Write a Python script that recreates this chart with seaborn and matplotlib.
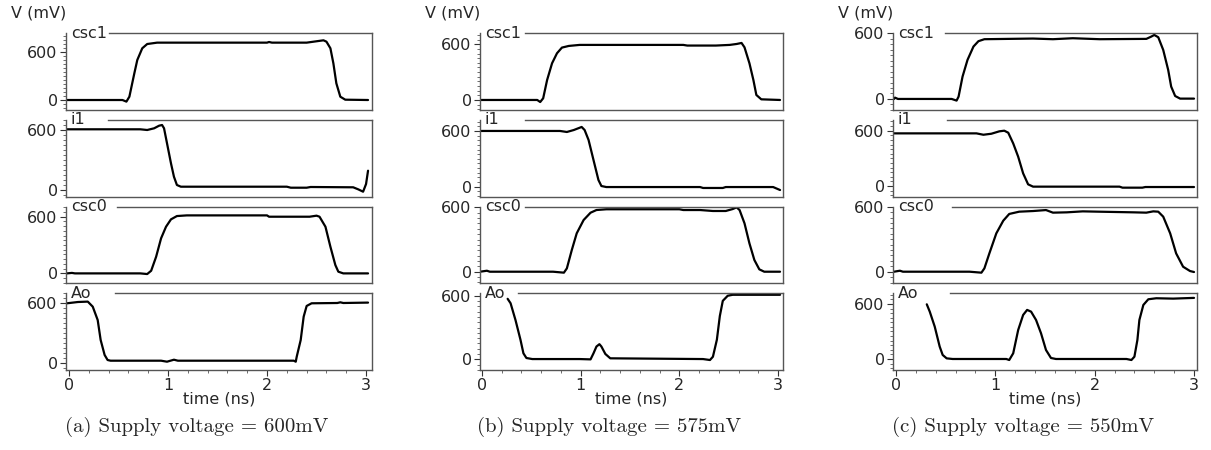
import matplotlib
matplotlib.use("Agg")
import matplotlib.pyplot as plt
import seaborn as sns
from matplotlib.ticker import MultipleLocator

# ---- datos: señales (tiempo en ns, tensión en mV) ----

senales = ["csc1", "i1", "csc0", "Ao"]
titulos = ["(a) Supply voltage = 600mV",
           "(b) Supply voltage = 575mV",
           "(c) Supply voltage = 550mV"]

# panel (a) 600 mV
t_a_csc1 = [-0.02, 0.54, 0.58, 0.61, 0.66, 0.69, 0.74, 0.79, 0.89, 2.0, 2.02, 2.05,
            2.40, 2.47, 2.57, 2.60, 2.64, 2.67, 2.70, 2.74, 2.79, 3.02]
v_a_csc1 = [0, 0, -20, 41, 331, 497, 642, 695, 712, 712, 720, 712,
            712, 724, 741, 724, 642, 455, 207, 41, 4, 0]
t_a_i1 = [-0.02, 0.72, 0.79, 0.86, 0.91, 0.94, 0.96, 0.99, 1.03, 1.06, 1.09, 1.13,
          2.20, 2.24, 2.40, 2.44, 2.87, 2.92, 2.97, 3.00, 3.02]
v_a_i1 = [607, 607, 600, 617, 643, 650, 617, 467, 267, 133, 50, 33,
          33, 23, 23, 30, 27, 7, -17, 60, 193]
t_a_csc0 = [-0.02, 0.03, 0.06, 0.72, 0.79, 0.83, 0.88, 0.93, 0.98, 1.03, 1.09, 1.19,
            2.0, 2.02, 2.43, 2.50, 2.53, 2.59, 2.64, 2.69, 2.72, 2.77, 3.02]
v_a_csc0 = [0, 5, 0, 0, -7, 28, 176, 371, 494, 572, 607, 614,
            614, 600, 600, 611, 600, 494, 282, 88, 18, 0, 0]
t_a_ao = [-0.02, 0.09, 0.19, 0.24, 0.29, 0.32, 0.36, 0.39, 0.42, 0.93, 0.99, 1.06,
          1.10, 2.27, 2.29, 2.30, 2.34, 2.37, 2.40, 2.45, 2.71, 2.74, 2.77, 3.02]
v_a_ao = [600, 613, 617, 566, 431, 229, 78, 27, 20, 20, 10, 30,
          20, 20, 10, 61, 229, 465, 573, 600, 603, 610, 603, 607]

# panel (b) 575 mV
t_b_csc1 = [-0.02, 0.56, 0.59, 0.62, 0.66, 0.71, 0.76, 0.81, 0.88, 0.99, 2.04, 2.08,
            2.37, 2.51, 2.58, 2.63, 2.66, 2.71, 2.75, 2.78, 2.83, 3.02]
v_b_csc1 = [0, 0, -22, 18, 215, 395, 503, 564, 582, 593, 593, 586,
            586, 593, 603, 614, 567, 395, 215, 54, 7, 0]
t_b_i1 = [-0.02, 0.79, 0.86, 0.93, 1.01, 1.04, 1.08, 1.13, 1.18, 1.21, 1.26, 2.21,
          2.24, 2.44, 2.47, 2.95, 3.02]
v_b_i1 = [600, 600, 589, 610, 643, 610, 503, 287, 72, 7, -4, -4,
          -14, -14, -4, -4, -36]
t_b_csc0 = [-0.02, 0.05, 0.08, 0.72, 0.83, 0.86, 0.91, 0.96, 1.03, 1.10, 1.16, 1.26,
            2.0, 2.04, 2.21, 2.34, 2.47, 2.54, 2.58, 2.61, 2.66, 2.71, 2.76, 2.81, 2.86, 3.02]
v_b_csc0 = [0, 9, 0, 0, -9, 31, 202, 358, 482, 550, 575, 582,
            582, 575, 575, 566, 566, 584, 600, 575, 451, 264, 109, 22, 0, 0]
t_b_ao = [0.26, 0.29, 0.34, 0.39, 0.42, 0.45, 0.51, 0.99, 1.10, 1.13, 1.16, 1.19,
          1.21, 1.25, 1.30, 2.24, 2.31, 2.34, 2.38, 2.41, 2.44, 2.49, 2.54, 3.02]
v_b_ao = [570, 528, 369, 185, 57, 13, 3, 3, 0, 57, 121, 143,
          121, 51, 10, 3, -6, 25, 185, 408, 551, 599, 608, 608]

# panel (c) 550 mV
t_c_csc1 = [-0.02, -0.01, 0.02, 0.56, 0.61, 0.63, 0.67, 0.72, 0.78, 0.83, 0.89, 1.38,
            1.58, 1.78, 2.05, 2.52, 2.57, 2.60, 2.64, 2.69, 2.74, 2.77, 2.81, 2.86, 3.0]
v_c_csc1 = [0, 12, 0, 0, -15, 21, 204, 357, 479, 528, 546, 552,
            546, 555, 546, 549, 570, 585, 564, 448, 265, 113, 27, 3, 3]
t_c_i1 = [-0.02, 0.81, 0.88, 0.96, 1.04, 1.09, 1.13, 1.18, 1.23, 1.28, 1.33, 1.38,
          2.25, 2.28, 2.48, 2.51, 3.0]
v_c_i1 = [571, 571, 556, 567, 593, 600, 578, 462, 318, 137, 18, -7,
          -7, -18, -18, -11, -11]
t_c_csc0 = [-0.02, 0.04, 0.07, 0.74, 0.86, 0.89, 0.94, 1.01, 1.08, 1.14, 1.24, 1.38,
            1.51, 1.58, 1.72, 1.88, 2.04, 2.39, 2.52, 2.59, 2.64, 2.69, 2.76, 2.82,
            2.89, 2.96, 3.0]
v_c_csc0 = [0, 9, 0, 0, -9, 31, 169, 354, 471, 533, 554, 560,
            569, 545, 548, 557, 554, 548, 545, 557, 554, 508, 354, 169,
            46, 6, -3]
t_c_ao = [0.31, 0.34, 0.39, 0.44, 0.47, 0.51, 0.57, 1.11, 1.14, 1.18, 1.23, 1.28,
          1.32, 1.36, 1.41, 1.46, 1.51, 1.56, 1.61, 2.32, 2.37, 2.40, 2.43, 2.45,
          2.49, 2.54, 2.62, 2.79, 3.0]
v_c_ao = [596, 516, 353, 135, 44, 7, 0, 0, -11, 62, 316, 480,
          535, 516, 425, 280, 98, 11, 0, 0, -11, 25, 207, 425,
          589, 651, 662, 658, 666]

paneles = [
    [(t_a_csc1, v_a_csc1), (t_a_i1, v_a_i1), (t_a_csc0, v_a_csc0), (t_a_ao, v_a_ao)],
    [(t_b_csc1, v_b_csc1), (t_b_i1, v_b_i1), (t_b_csc0, v_b_csc0), (t_b_ao, v_b_ao)],
    [(t_c_csc1, v_c_csc1), (t_c_i1, v_c_i1), (t_c_csc0, v_c_csc0), (t_c_ao, v_c_ao)],
]

# ---- disposición (pixeles de la figura 1211x450) ----
W, H = 1211, 450
izq_px = [66, 480, 893]
ancho_px = [306, 303, 304]
fila_top_px = [33.3, 120, 206.7, 293.3]
alto_px = 76.7
rango_x = [(-0.03, 3.06), (-0.02, 3.05), (-0.03, 3.03)]
rango_y = [
    [(-124, 828), (-67, 700), (-106, 706), (-74, 701)],
    [(-108, 718), (-108, 718), (-109, 606), (-100, 622)],
    [(-101, 600), (-116, 716), (-108, 600), (-120, 716)],
]
fin_hueco = [[0.40, 0.39, 0.48, 0.46], [0.44, 0.44, 0.44, 0.37], [0.49, 0.51, 0.56, 0.54]]
tam = 11.5

sns.set_theme(style="ticks")
plt.rcParams["font.family"] = ["DejaVu Sans"]
plt.rcParams["font.size"] = tam

fig = plt.figure(figsize=(W / 100, H / 100), dpi=100)
gris = "#555555"

for p, datos in enumerate(paneles):
    for r, (t, v) in enumerate(datos):
        rect = [izq_px[p] / W, 1 - (fila_top_px[r] + alto_px) / H,
                ancho_px[p] / W, alto_px / H]
        ax = fig.add_axes(rect)
        sns.lineplot(x=t, y=v, ax=ax, color="black", linewidth=1.6,
                     sort=False, estimator=None)
        ax.set_xlim(*rango_x[p])
        ax.set_ylim(*rango_y[p][r])
        for lado in ["top", "bottom", "left", "right"]:
            ax.spines[lado].set_color(gris)
            ax.spines[lado].set_linewidth(1.0)
        ax.spines["top"].set_bounds(fin_hueco[p][r], rango_x[p][1])
        ax.set_yticks([0, 600])
        ax.yaxis.set_minor_locator(MultipleLocator(50))
        ax.tick_params(axis="y", which="major", length=4, width=0.8, color="#333333",
                       pad=2, labelsize=tam)
        ax.tick_params(axis="y", which="minor", length=2, width=0.6, color="#555555")
        ax.text(0.016, 1.0, senales[r], transform=ax.transAxes, ha="left",
                va="center", fontsize=tam)
        if r == 3:
            ax.set_xticks([0, 1, 2, 3])
            ax.xaxis.set_minor_locator(MultipleLocator(0.2))
            ax.tick_params(axis="x", which="major", length=4, width=0.8,
                           color="#333333", pad=2, labelsize=tam)
            ax.tick_params(axis="x", which="minor", length=2, width=0.6,
                           color="#555555")
            ax.set_xlabel("time (ns)", fontsize=tam, labelpad=-1)
        else:
            ax.set_xticks([])
            ax.xaxis.set_minor_locator(plt.NullLocator())
        if r == 0:
            ax.text(0.0, 1.26, "V (mV)", transform=ax.transAxes, ha="right",
                    va="center", fontsize=tam)

    centro = (izq_px[p] + ancho_px[p] / 2 - 22) / W
    fig.text(centro, 1 - 427 / H, titulos[p], ha="center", va="center",
             fontsize=15, family="cmr10")

fig.savefig("out.png", dpi=100)
